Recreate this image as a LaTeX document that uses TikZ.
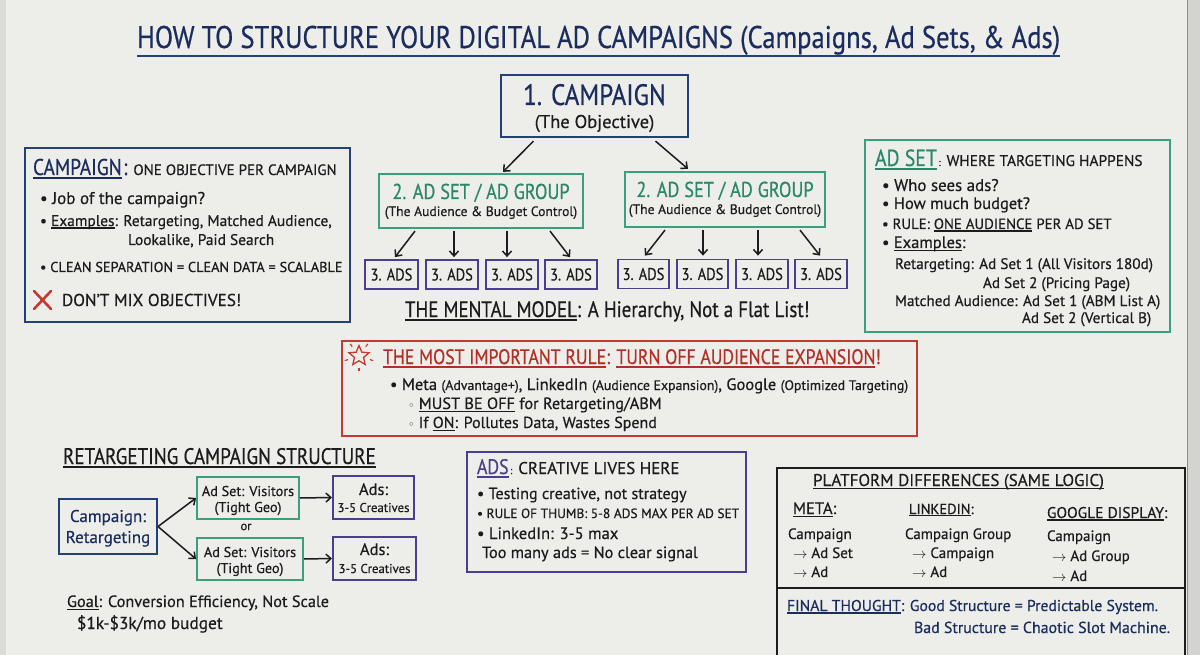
\documentclass[tikz,border=0pt]{standalone}
\usepackage{fontspec}
\setmainfont[FakeBold=0.5]{PT Sans}
\newfontfamily\cond[FakeStretch=0.85,FakeBold=0.5]{PT Sans}
\newfontfamily\dejavu{DejaVu Sans}
\usetikzlibrary{arrows.meta,calc,shapes.geometric}
\definecolor{board}{HTML}{EDEDEA}
\definecolor{frame}{HTML}{D3D4D0}
\definecolor{ink}{HTML}{1C1C1E}
\definecolor{navy}{HTML}{1B2D5E}
\definecolor{navyb}{HTML}{234077}
\definecolor{grn}{HTML}{3A9F80}
\definecolor{grnt}{HTML}{2A8769}
\definecolor{purp}{HTML}{4B3D8F}
\definecolor{redb}{HTML}{C43A31}
\definecolor{redt}{HTML}{B33027}
\newcommand\fsz[1]{\fontsize{#1pt}{1.2\dimexpr#1pt\relax}\selectfont}
\newcommand\ul[1]{\leavevmode\setbox0\hbox{#1}\rlap{\rule[-0.17em]{\wd0}{0.075em}}\box0\relax}
\newcommand\wb{{\dejavu\fsz{11}◦}}
\tikzset{
  txt/.style={anchor=base west, inner sep=0pt, outer sep=0pt, text=ink},
  ctr/.style={anchor=base, inner sep=0pt, outer sep=0pt, text=ink},
  boxn/.style={draw, line width=2.2pt, inner sep=0pt, align=center},
  adsbox/.style={boxn, draw=purp, line width=1.8pt, minimum width=52, minimum height=29, font={\cond\fsz{17}}, text=ink},
  arr/.style={-{Straight Barb[length=5pt,width=9pt]}, line width=1.5pt, draw=ink},
}
\begin{document}
\begin{tikzpicture}[x=1pt,y=-1pt]
\fill[board] (0,0) rectangle (1200,655);
\useasboundingbox (0,0) rectangle (1200,655);
\fill[frame] (1187,0) rectangle (1200,655);
\draw[black!45, line width=1] (1187,0) -- (1187,655);
\fill[frame!70!board] (0,0) rectangle (6,655);

% title
\node[txt, text=navy, font={\cond\fsz{31.3}}] (title) at (137,48) {HOW TO STRUCTURE YOUR DIGITAL AD CAMPAIGNS (Campaigns, Ad Sets, \& Ads)};
\draw[navyb, line width=2.2] (137,56) -- (1060,56);

% hierarchy
\node[boxn, draw=navyb, minimum width=187, minimum height=62] (camp) at (594.5,106) {};
\node[ctr, text=navy, font={\cond\fsz{29.5}}] (campt1) at (594.5,105) {1. CAMPAIGN};
\node[ctr, font=\fsz{18.5}] (campt2) at (594.5,128) {(The Objective)};
\node[boxn, draw=grn, minimum width=204, minimum height=54] (as1) at (481,201) {};
\node[ctr, text=grnt, font={\cond\fsz{21.5}}] (as1t1) at (481,199) {2. AD SET / AD GROUP};
\node[ctr, font=\fsz{13.6}] (as1t2) at (481,216) {(The Audience \& Budget Control)};
\node[boxn, draw=grn, minimum width=200, minimum height=55] (as2) at (725,199.5) {};
\node[ctr, text=grnt, font={\cond\fsz{21.5}}] (as2t1) at (725,197) {2. AD SET / AD GROUP};
\node[ctr, font=\fsz{13.6}] (as2t2) at (725,214) {(The Audience \& Budget Control)};
\node[adsbox, minimum width=53] (a1) at (391.5,274.5) {3. ADS};
\node[adsbox] (a2) at (452,274.5) {3. ADS};
\node[adsbox] (a3) at (512,274.5) {3. ADS};
\node[adsbox] (a4) at (571,274.5) {3. ADS};
\node[adsbox, minimum width=51] (b1) at (643.5,274) {3. ADS};
\node[adsbox, minimum width=51] (b2) at (702.5,274) {3. ADS};
\node[adsbox] (b3) at (762,274) {3. ADS};
\node[adsbox] (b4) at (821,274) {3. ADS};
\draw[arr] ($(camp.south)+(-61,3)$) -- ($(as1.north)+(22,-1)$);
\draw[arr] ($(camp.south)+(61,3)$) -- ($(as2.north)+(-37,-2)$);
\draw[arr] ($(as1.south)+(-66,2)$) -- ($(a1.north)+(3.5,-2)$);
\draw[arr] ($(as1.south)+(-27,2)$) -- ($(a2.north)+(2,-2)$);
\draw[arr] ($(as1.south)+(26,2)$) -- ($(a3.north)+(-5,-2)$);
\draw[arr] ($(as1.south)+(69,2)$) -- ($(a4.north)+(-1,-2)$);
\draw[arr] ($(as2.south)+(-60,2)$) -- ($(b1.north)+(1.5,-3)$);
\draw[arr] ($(as2.south)+(-22,2)$) -- ($(b2.north)+(0.5,-3)$);
\draw[arr] ($(as2.south)+(33,2)$) -- ($(b3.north)+(-4,-3)$);
\draw[arr] ($(as2.south)+(75,2)$) -- ($(b4.north)+(-1,-3)$);
\node[txt, font={\cond\fsz{22.3}}] (mental) at (405,317) {\ul{THE MENTAL MODEL}: A Hierarchy, Not a Flat List!};

% campaign box (left)
\node[boxn, draw=navyb, minimum width=325, minimum height=174] (cbox) at (187.5,235) {};
\node[txt] (c1) at (33,175) {{\cond\fsz{22.8}\color{navy}\ul{CAMPAIGN}\hspace{1.5pt}:}\hspace{6pt}\fsz{15}\color{ink}ONE OBJECTIVE PER CAMPAIGN};
\node[txt, font=\fsz{17}] (c2) at (40,204) {• Job of the campaign?};
\node[txt, font=\fsz{15.4}] (c3) at (40,226) {• \ul{Examples}: Retargeting, Matched Audience,};
\node[txt, font=\fsz{15.4}] (c4) at (128,245) {Lookalike, Paid Search};
\node[txt, font=\fsz{14.3}] (c5) at (40,272) {• CLEAN SEPARATION = CLEAN DATA = SCALABLE};
\draw[redb, line width=2.6, line cap=round] (34,291) -- (51,309) (51,291) -- (34,309);
\node[txt, font=\fsz{17.2}] (c6) at (62,306) {DON'T MIX OBJECTIVES!};

% ad set box (right)
\node[boxn, draw=grn, minimum width=305, minimum height=192] (abox) at (1017.5,236) {};
\node[txt] (r1) at (875,166) {{\cond\fsz{23.3}\color{grnt}\ul{AD SET}}\hspace{1.5pt}:\hspace{6pt}\fsz{15.4}\color{ink}WHERE TARGETING HAPPENS};
\node[txt, font=\fsz{16.9}] (r2) at (882,191) {• Who sees ads?};
\node[txt, font=\fsz{16.5}] (r3) at (882,209) {• How much budget?};
\node[txt, font=\fsz{14.8}] (r4) at (882,229) {• RULE: \ul{ONE AUDIENCE} PER AD SET};
\node[txt, font=\fsz{16.5}] (r5) at (882,248) {• \ul{Examples}:};
\node[txt, font=\fsz{15.2}] (r6) at (895,269) {Retargeting: Ad Set 1 (All Visitors 180d)};
\node[txt, font=\fsz{15.2}] (r7) at (983,288) {Ad Set 2 (Pricing Page)};
\node[txt, font=\fsz{15.2}] (r8) at (895,306) {Matched Audience: Ad Set 1 (ABM List A)};
\node[txt, font=\fsz{15.2}] (r9) at (1022,323) {Ad Set 2 (Vertical B)};

% red rule box
\node[boxn, draw=redb, line width=2pt, minimum width=575, minimum height=95] (rbox) at (629.5,388.5) {};
\node[star, star points=5, star point ratio=2.2, draw=redb, line width=1.3pt, minimum size=21, inner sep=0pt] (star) at (359,356) {};
\foreach \a in {54,126,198,270,342}{\draw[redb, line width=1.2pt] ($(star.center)+(\a:-11.5)$) -- ($(star.center)+(\a:-15)$);}
\node[txt, text=redt, font={\cond\fsz{20.9}}] (t1) at (383,364) {\ul{THE MOST IMPORTANT RULE}: \ul{TURN OFF AUDIENCE EXPANSION}!};
\node[txt, font=\fsz{16.5}] (t2) at (390,390) {• Meta {\fsz{13.8}(Advantage+)}, LinkedIn {\fsz{13.8}(Audience Expansion)}, Google {\fsz{13.8}(Optimized Targeting)}};
\node[txt, font=\fsz{16.3}] (t3) at (408,409) {\wb\ \ul{MUST BE OFF} for Retargeting/ABM};
\node[txt, font=\fsz{16}] (t4) at (408,428) {\wb\ If \ul{ON}: Pollutes Data, Wastes Spend};

% retargeting structure
\node[txt, font={\cond\fsz{22.5}}] (rt) at (63,464) {\ul{RETARGETING CAMPAIGN STRUCTURE}};
\node[boxn, draw=navyb, line width=2pt, minimum width=98, minimum height=55] (rc) at (108,526.5) {};
\node[ctr, text=navy, font=\fsz{17}] (rct1) at (108,522) {Campaign:};
\node[ctr, text=navy, font=\fsz{17}] (rct2) at (108,543) {Retargeting};
\node[boxn, draw=grn, line width=2pt, minimum width=102, minimum height=42] (rs1) at (248,498) {};
\node[ctr, font=\fsz{14.2}] (rs1t1) at (248,496) {Ad Set: Visitors};
\node[ctr, font=\fsz{14.2}] (rs1t2) at (248,512) {(Tight Geo)};
\node[boxn, draw=grn, line width=2pt, minimum width=106, minimum height=42] (rs2) at (250,559) {};
\node[ctr, font=\fsz{14.2}] (rs2t1) at (250,557) {Ad Set: Visitors};
\node[ctr, font=\fsz{14.2}] (rs2t2) at (250,573) {(Tight Geo)};
\node[boxn, draw=purp, line width=2pt, minimum width=81, minimum height=43] (ra1) at (373.5,497.5) {};
\node[ctr, font=\fsz{16.5}] (ra1t1) at (373.5,495) {Ads:};
\node[ctr, font=\fsz{12.8}] (ra1t2) at (373.5,512) {3-5 Creatives};
\node[boxn, draw=purp, line width=2pt, minimum width=83, minimum height=43] (ra2) at (374.5,558.5) {};
\node[ctr, font=\fsz{16.5}] (ra2t1) at (374.5,555) {Ads:};
\node[ctr, font=\fsz{12.8}] (ra2t2) at (374.5,573) {3-5 Creatives};
\node[inner sep=0pt, text=ink, font=\fsz{12.5}] (orr) at (246,527) {or};
\draw[arr] (rc.east) -- (rs1.west);
\draw[arr] (rc.east) -- (rs2.west);
\draw[arr] (rs1.east) -- (ra1.west);
\draw[arr] (rs2.east) -- (ra2.west);
\node[txt, font=\fsz{16.3}] (goal) at (67,607) {\ul{Goal}: Conversion Efficiency, Not Scale};
\node[txt, font=\fsz{17.3}] (budget) at (77,629) {\$1k-\$3k/mo budget};

% ads box
\node[boxn, draw=purp, line width=2pt, minimum width=279, minimum height=120] (dbox) at (606.5,512) {};
\node[txt] (d1) at (477,474) {{\cond\fsz{21}\color{purp}\ul{ADS}}\hspace{1.5pt}:\hspace{6pt}\fsz{17}CREATIVE LIVES HERE};
\node[txt, font=\fsz{16.1}] (d2) at (477,499) {• Testing creative, not strategy};
\node[txt, font=\fsz{13.4}] (d3) at (477,518) {• RULE OF THUMB: 5-8 ADS MAX PER AD SET};
\node[txt, font=\fsz{16.6}] (d4) at (477,539) {• LinkedIn: 3-5 max};
\node[txt, font=\fsz{16.3}] (d5) at (482,558) {Too many ads = No clear signal};

% platform differences
\draw[ink, line width=1.8pt] (777,655) -- (777,468) -- (1185,468) -- (1185,655);
\draw[ink, line width=1.8pt] (777,588) -- (1185,588);
\node[txt, font=\fsz{17}] (p0) at (813,486) {\ul{PLATFORM DIFFERENCES (SAME LOGIC)}};
\node[txt, font=\fsz{16.5}] (pm) at (793,514) {\ul{META}:};
\node[txt, font=\fsz{14.5}] (pl) at (909,514) {\ul{LINKEDIN}:};
\node[txt, font=\fsz{15.5}] (pg) at (1047,518) {\ul{GOOGLE DISPLAY}:};
\node[txt, font=\fsz{15}] (pm1) at (788,539) {Campaign};
\node[txt, font=\fsz{15}] (pm2) at (793,558) {$\to$ Ad Set};
\node[txt, font=\fsz{15}] (pm3) at (793,577) {$\to$ Ad};
\node[txt, font=\fsz{15}] (pl1) at (905,539) {Campaign Group};
\node[txt, font=\fsz{15}] (pl2) at (912,558) {$\to$ Campaign};
\node[txt, font=\fsz{15}] (pl3) at (912,577) {$\to$ Ad};
\node[txt, font=\fsz{15}] (pg1) at (1047,541) {Campaign};
\node[txt, font=\fsz{15}] (pg2) at (1052,561) {$\to$ Ad Group};
\node[txt, font=\fsz{15}] (pg3) at (1052,581) {$\to$ Ad};
\node[txt, text=navy, font=\fsz{15.7}] (f1) at (787,611) {\ul{FINAL THOUGHT}: Good Structure = Predictable System.};
\node[txt, text=navy, font=\fsz{15.9}] (f2) at (914,633) {Bad Structure = Chaotic Slot Machine.};
\end{tikzpicture}
\end{document}
